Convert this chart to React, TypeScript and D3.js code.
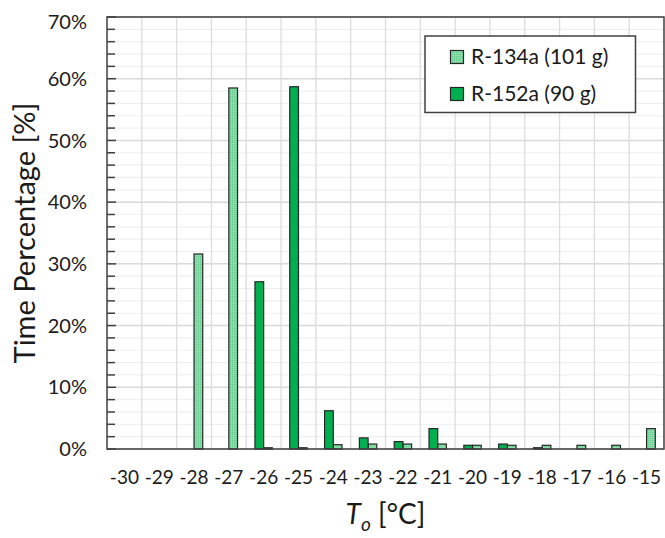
import React from "react";
import * as d3 from "d3";

const categories = ["-30", "-29", "-28", "-27", "-26", "-25", "-24", "-23", "-22", "-21", "-20", "-19", "-18", "-17", "-16", "-15"];
const seriesNames = ["R-134a (101 g)", "R-152a (90 g)"];
const r134a = [0, 0, 31.6, 58.5, 0.2, 0.2, 0.7, 0.8, 0.8, 0.8, 0.6, 0.6, 0.6, 0.6, 0.6, 3.3];
const r152a = [0, 0, 0, 0, 27.1, 58.7, 6.2, 1.8, 1.2, 3.3, 0.6, 0.8, 0.2, 0, 0, 0];
const yMajorTicks = [0, 10, 20, 30, 40, 50, 60, 70];
const yMinorTicks = d3.range(0, 71, 2);

const W = 665;
const H = 538;
const plot = { left: 107, right: 664, top: 17, bottom: 449 };
const FONT = "Lato, 'Open Sans', sans-serif";
const TEXT = "#1a1a1a";

export default function App() {
  const x = d3.scaleBand<string>().domain(categories).range([plot.left, plot.right]).paddingInner(0).paddingOuter(0);
  // bar order within a category: R-152a on the left, R-134a on the right
  const xs = d3.scaleBand<string>().domain(["R-152a", "R-134a"]).range([0, x.bandwidth()]).paddingInner(0).paddingOuter(1);
  const y = d3.scaleLinear().domain([0, 70]).range([plot.bottom, plot.top]);

  const boundaries = categories.slice(1).map((c) => x(c) as number);

  const series = [
    { key: "R-134a", values: r134a, fill: "url(#dots134)" },
    { key: "R-152a", values: r152a, fill: "#00B050" },
  ];

  return (
    <svg width={W} height={H} style={{ position: "absolute", left: 0, top: 0, background: "#fff" }}>
      <defs>
        <pattern id="dots134" width="2" height="2" patternUnits="userSpaceOnUse">
          <rect width="2" height="2" fill="#8EDAAB" />
          <rect width="1" height="1" fill="#5FCB8D" />
        </pattern>
      </defs>
      <rect width={W} height={H} fill="#fff" />
      {/* minor horizontal gridlines */}
      {yMinorTicks.filter((t) => t % 10 !== 0).map((t) => (
        <line key={"mg" + t} x1={plot.left} x2={plot.right} y1={y(t)} y2={y(t)} stroke="#F0F0F0" strokeWidth={1.2} />
      ))}
      {/* major horizontal gridlines */}
      {yMajorTicks.map((t) => (
        <line key={"g" + t} x1={plot.left} x2={plot.right} y1={y(t)} y2={y(t)} stroke="#D9D9D9" strokeWidth={1.5} />
      ))}
      {/* vertical gridlines at category boundaries */}
      {boundaries.map((bx, i) => (
        <line key={"v" + i} x1={bx} x2={bx} y1={plot.top} y2={plot.bottom} stroke="#DDDDDD" strokeWidth={1.3} />
      ))}
      {/* bars */}
      {series.map((s) =>
        s.values.map((v, i) => {
          if (v <= 0) return null;
          const bx = (x(categories[i]) as number) + (xs(s.key) as number);
          return (
            <rect
              key={s.key + i}
              x={bx}
              y={y(v)}
              width={xs.bandwidth()}
              height={y(0) - y(v)}
              fill={s.fill}
              stroke="#262626"
              strokeWidth={1.2}
            />
          );
        })
      )}
      {/* plot border */}
      <rect x={plot.left} y={plot.top} width={plot.right - plot.left} height={plot.bottom - plot.top} fill="none" stroke="#404040" strokeWidth={1.5} />
      {/* y ticks (inside) */}
      {yMinorTicks.map((t) => (
        <line key={"t" + t} x1={plot.left} x2={plot.left + (t % 10 === 0 ? 9 : 8)} y1={y(t)} y2={y(t)} stroke="#404040" strokeWidth={1.5} />
      ))}
      {/* y tick labels */}
      {yMajorTicks.map((t) => (
        <text key={"yl" + t} x={87} y={Math.max(y(t), 22)} dy="0.36em" textAnchor="end" fontFamily={FONT} fontSize={20} fill={TEXT}>
          {t + "%"}
        </text>
      ))}
      {/* x tick labels */}
      {categories.map((c) => (
        <text key={"xl" + c} x={(x(c) as number) + x.bandwidth() / 2} y={484} textAnchor="middle" fontFamily={FONT} fontSize={19} fill={TEXT}>
          {c}
        </text>
      ))}
      {/* axis titles */}
      <text transform={`translate(35, ${(plot.top + plot.bottom) / 2}) rotate(-90)`} textAnchor="middle" fontFamily={FONT} fontSize={29} fill={TEXT}>
        Time Percentage [%]
      </text>
      <text x={(plot.left + plot.right) / 2} y={524} textAnchor="middle" fontFamily={FONT} fontSize={28} fill={TEXT}>
        <tspan fontStyle="italic">T</tspan>
        <tspan fontStyle="italic" fontSize={19} dy={7}>o</tspan>
        <tspan dy={-7}> [°C]</tspan>
      </text>
      {/* legend */}
      <g>
        <rect x={425} y={36} width={210.5} height={76.5} fill="#fff" stroke="#404040" strokeWidth={1.5} />
        {seriesNames.map((name, i) => (
          <g key={name} transform={`translate(450, ${50 + i * 37})`}>
            <rect x={0.5} y={0.5} width={13} height={13} fill={series[i].fill} stroke="#262626" strokeWidth={1.2} />
            <text x={21} y={13.5} fontFamily={FONT} fontSize={21} fill={TEXT}>
              {name}
            </text>
          </g>
        ))}
      </g>
    </svg>
  );
}
